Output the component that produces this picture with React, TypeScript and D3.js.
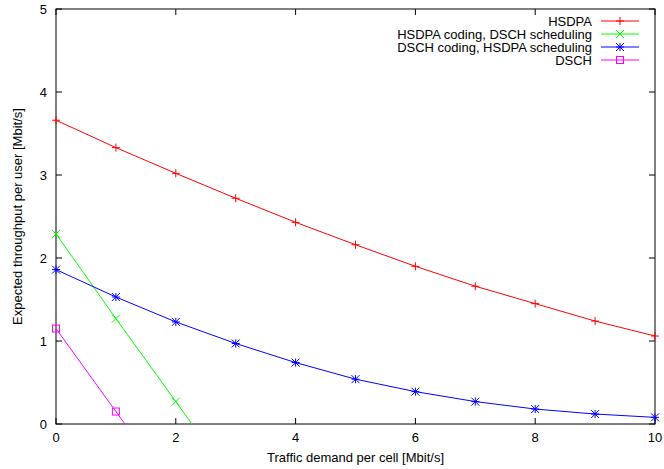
import React from "react";
import * as d3 from "d3";

const xValues = [0, 1, 2, 3, 4, 5, 6, 7, 8, 9, 10];
const hsdpa = [3.66, 3.33, 3.02, 2.72, 2.43, 2.16, 1.9, 1.66, 1.45, 1.24, 1.06];
const hsdpaCodingDschSched = [2.29, 1.27, 0.27, -0.73];
const dschCodingHsdpaSched = [1.86, 1.53, 1.23, 0.97, 0.74, 0.54, 0.39, 0.27, 0.18, 0.12, 0.08];
const dsch = [1.15, 0.15, -0.85];
const xTicks = [0, 2, 4, 6, 8, 10];
const yTicks = [0, 1, 2, 3, 4, 5];
const seriesNames = [
  "HSDPA",
  "HSDPA coding, DSCH scheduling",
  "DSCH coding, HSDPA scheduling",
  "DSCH",
];

const W = 664;
const H = 469;
const L = 56, R = 655, T = 9, B = 424;

export default function App() {
  const x = d3.scaleLinear().domain([0, 10]).range([L, R]);
  const y = d3.scaleLinear().domain([0, 5]).range([B, T]);
  const series = [
    { name: seriesNames[0], vals: hsdpa, color: "#ff0000", marker: "plus" },
    { name: seriesNames[1], vals: hsdpaCodingDschSched, color: "#00ff00", marker: "cross" },
    { name: seriesNames[2], vals: dschCodingHsdpaSched, color: "#0000ff", marker: "star" },
    { name: seriesNames[3], vals: dsch, color: "#ff00ff", marker: "square" },
  ];
  const line = d3
    .line<number>()
    .x((_, i) => x(xValues[i]))
    .y((d) => y(d));

  const marker = (kind: string, cx: number, cy: number, color: string, key: string) => {
    const s = 4;
    if (kind === "plus")
      return (
        <path key={key} d={`M${cx - s},${cy}H${cx + s}M${cx},${cy - s}V${cy + s}`} stroke={color} strokeWidth={1} fill="none" />
      );
    if (kind === "cross")
      return (
        <path key={key} d={`M${cx - s},${cy - s}L${cx + s},${cy + s}M${cx - s},${cy + s}L${cx + s},${cy - s}`} stroke={color} strokeWidth={1} fill="none" />
      );
    if (kind === "star")
      return (
        <path
          key={key}
          d={`M${cx - s},${cy}H${cx + s}M${cx},${cy - s}V${cy + s}M${cx - s},${cy - s}L${cx + s},${cy + s}M${cx - s},${cy + s}L${cx + s},${cy - s}`}
          stroke={color}
          strokeWidth={1}
          fill="none"
        />
      );
    return <rect key={key} x={cx - 3.5} y={cy - 3.5} width={7} height={7} stroke={color} strokeWidth={1} fill="none" />;
  };

  const font = "Liberation Sans, Arial, Helvetica, sans-serif";
  const legendRows = [21, 34, 47, 60];
  const fs = 13;

  return (
    <svg width={W} height={H} style={{ position: "absolute", left: 0, top: 0, background: "#fff" }} fontFamily={font}>
      <defs>
        <clipPath id="plotclip">
          <rect x={L} y={T} width={R - L} height={B - T} />
        </clipPath>
      </defs>
      {xTicks.map((t) => (
        <g key={"xt" + t}>
          <line x1={x(t)} x2={x(t)} y1={B} y2={B - 6} stroke="#000" />
          <line x1={x(t)} x2={x(t)} y1={T} y2={T + 6} stroke="#000" />
          <text x={x(t)} y={442} textAnchor="middle" fontSize={fs} fill="#000">
            {t}
          </text>
        </g>
      ))}
      {yTicks.map((t) => (
        <g key={"yt" + t}>
          <line x1={L} x2={L + 6} y1={y(t)} y2={y(t)} stroke="#000" />
          <line x1={R} x2={R - 6} y1={y(t)} y2={y(t)} stroke="#000" />
          <text x={47} y={y(t) + 5} textAnchor="end" fontSize={fs} fill="#000">
            {t}
          </text>
        </g>
      ))}
      <rect x={L} y={T} width={R - L} height={B - T} fill="none" stroke="#000" strokeWidth={1} />
      <text x={(L + R) / 2} y={462} textAnchor="middle" fontSize={fs} fill="#000">
        Traffic demand per cell [Mbit/s]
      </text>
      <text
        transform={`translate(22,${(T + B) / 2}) rotate(-90)`}
        textAnchor="middle"
        fontSize={fs}
        fill="#000"
      >
        Expected throughput per user [Mbit/s]
      </text>
      <g clipPath="url(#plotclip)">
        {series.map((s) => (
          <path key={s.name} d={line(s.vals) || ""} stroke={s.color} strokeWidth={1} fill="none" />
        ))}
      </g>
      {series.map((s) =>
        s.vals.map((v, i) =>
          v >= 0 ? marker(s.marker, x(xValues[i]), y(v), s.color, s.name + i) : null
        )
      )}
      {series.map((s, i) => (
        <g key={"lg" + i}>
          <text x={592} y={legendRows[i] + 5} textAnchor="end" fontSize={fs} fill="#000">
            {s.name}
          </text>
          <line x1={601} x2={639} y1={legendRows[i]} y2={legendRows[i]} stroke={s.color} strokeWidth={1} />
          {marker(s.marker, 620, legendRows[i], s.color, "lm" + i)}
        </g>
      ))}
    </svg>
  );
}
